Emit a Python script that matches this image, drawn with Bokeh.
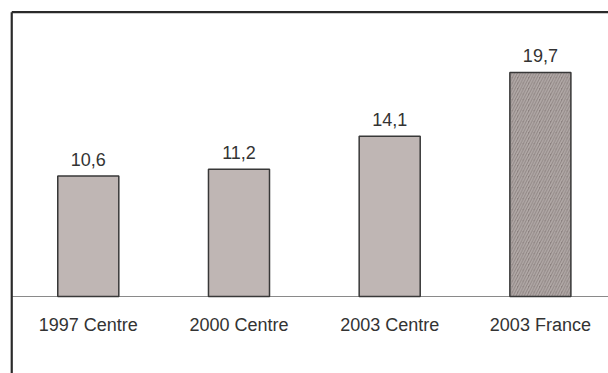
from bokeh.plotting import figure
from bokeh.models import ColumnDataSource, Range1d
from bokeh.embed import file_html
from bokeh.resources import INLINE
from bokeh.core.properties import value

categories = ["1997 Centre", "2000 Centre", "2003 Centre", "2003 France"]
values = [10.6, 11.2, 14.1, 19.7]
value_labels = ["10,6", "11,2", "14,1", "19,7"]
fills = ["#bfb6b4", "#bfb6b4", "#bfb6b4", "#8a807e"]
hatches = [" ", " ", " ", "/"]

xs = list(range(len(categories)))

p = figure(width=608, height=373, output_backend="svg", toolbar_location=None,
           x_range=Range1d(-0.5826, 3.452), y_range=Range1d(-6.77, 26.03),
           min_border_left=0, min_border_right=0, min_border_top=0, min_border_bottom=0)
p.axis.visible = False
p.grid.visible = False
p.outline_line_color = None
p.background_fill_color = "white"
p.border_fill_color = "white"

src = ColumnDataSource(dict(x=xs, top=values, fill=fills, hatch=hatches,
                            lab=value_labels, cat=categories, zero=[0] * len(xs)))

# baseline
x_left = -0.508
p.segment(x0=[x_left], y0=[0], x1=[3.452], y1=[0], line_color="#8a8a8a", line_width=1.2)

p.vbar(x="x", top="top", bottom=0, width=0.405, source=src, fill_color="fill",
       line_color="#383838", line_width=1.5, hatch_pattern="hatch",
       hatch_color="#b3aba9", hatch_scale=5.5, hatch_weight=1.6)

p.text(x="x", y="top", text="lab", source=src, text_align="center",
       text_baseline="bottom", y_offset=-10, text_font=value("Liberation Sans"),
       text_font_size="18px", text_color="#333333")
p.text(x="x", y="zero", text="cat", source=src, text_align="center",
       text_baseline="bottom", y_offset=38, text_font=value("Liberation Sans"),
       text_font_size="18px", text_color="#333333")

# frame borders (left and top)
p.segment(x0=[x_left], y0=[-6.77], x1=[x_left], y1=[25.0], line_color="#2a2a2a", line_width=2.2)
p.segment(x0=[x_left], y0=[25.0], x1=[3.452], y1=[25.0], line_color="#2a2a2a", line_width=2.2)

open("out.html", "w").write(file_html(p, INLINE))
